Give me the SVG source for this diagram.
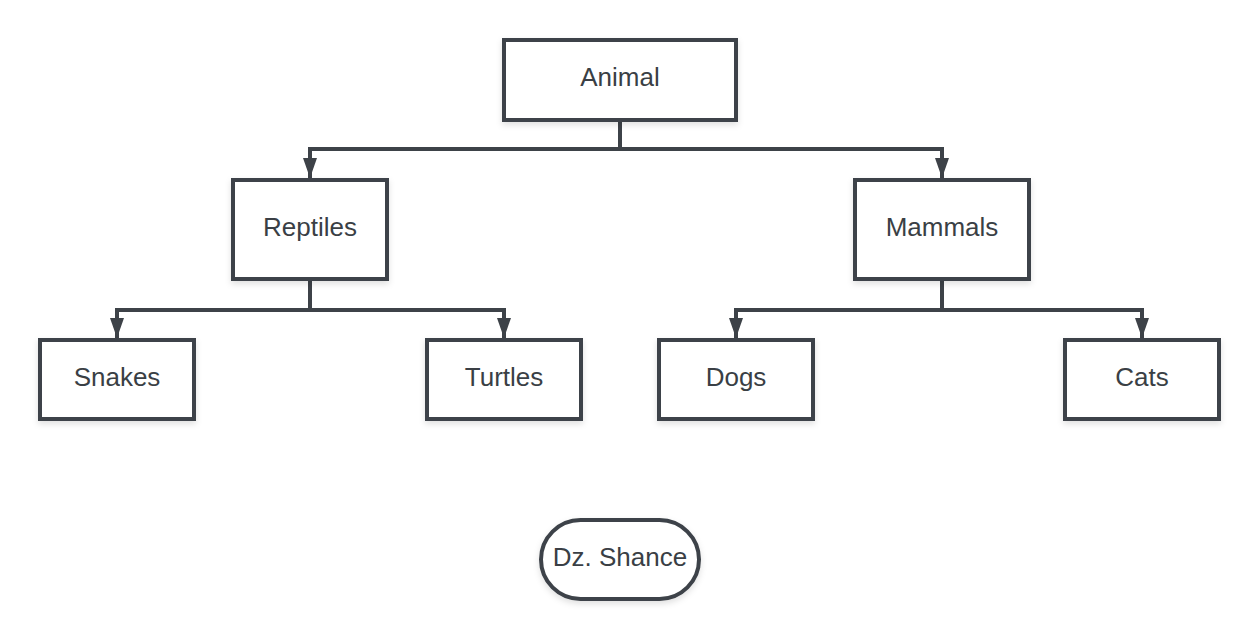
<svg xmlns="http://www.w3.org/2000/svg" width="1260" height="640" viewBox="0 0 1260 640">
<style>
.box{fill:#ffffff;stroke:#3d4248;stroke-width:4;filter:url(#sh)}
.lbl{font-family:"Liberation Sans",Arial,sans-serif;font-size:26px;fill:#3a3f45;text-anchor:middle;dominant-baseline:central}
.con{fill:none;stroke:#3d4248;stroke-width:4}
.arr{marker-end:url(#ah)}
</style>
<defs>
<filter id="sh" x="-20%" y="-20%" width="140%" height="150%">
<feDropShadow dx="0" dy="3" stdDeviation="3" flood-color="#000" flood-opacity="0.12"/>
</filter>
<marker id="ah" viewBox="0 0 20 14" refX="20" refY="7" markerWidth="20" markerHeight="14" markerUnits="userSpaceOnUse" orient="auto">
<path d="M0,0 L20,7 L0,14 Z" fill="#3d4248"/>
</marker>
</defs>
<rect width="1260" height="640" fill="#ffffff"/>
<g id="connectors">
<path class="con arr" d="M620,121 V149 H310 V178"/>
<path class="con arr" d="M620,149 H942 V178"/>
<path class="con arr" d="M310,280 V310 H117 V338"/>
<path class="con arr" d="M310,310 H504 V338"/>
<path class="con arr" d="M942,280 V310 H736 V338"/>
<path class="con arr" d="M942,310 H1142 V338"/>
</g>
<g id="animal"><rect class="box" x="504" y="40" width="232" height="80"/><text class="lbl" x="620" y="77">Animal</text></g>
<g id="reptiles"><rect class="box" x="233" y="180" width="154" height="99"/><text class="lbl" x="310" y="227">Reptiles</text></g>
<g id="mammals"><rect class="box" x="855" y="180" width="174" height="99"/><text class="lbl" x="942" y="227">Mammals</text></g>
<g id="snakes"><rect class="box" x="40" y="340" width="154" height="79"/><text class="lbl" x="117" y="377">Snakes</text></g>
<g id="turtles"><rect class="box" x="427" y="340" width="154" height="79"/><text class="lbl" x="504" y="377">Turtles</text></g>
<g id="dogs"><rect class="box" x="659" y="340" width="154" height="79"/><text class="lbl" x="736" y="377">Dogs</text></g>
<g id="cats"><rect class="box" x="1065" y="340" width="154" height="79"/><text class="lbl" x="1142" y="377">Cats</text></g>
<g id="author"><rect class="box" x="541" y="520" width="158" height="79" rx="39.5" ry="39.5"/><text class="lbl" x="620" y="557">Dz. Shance</text></g>
</svg>
